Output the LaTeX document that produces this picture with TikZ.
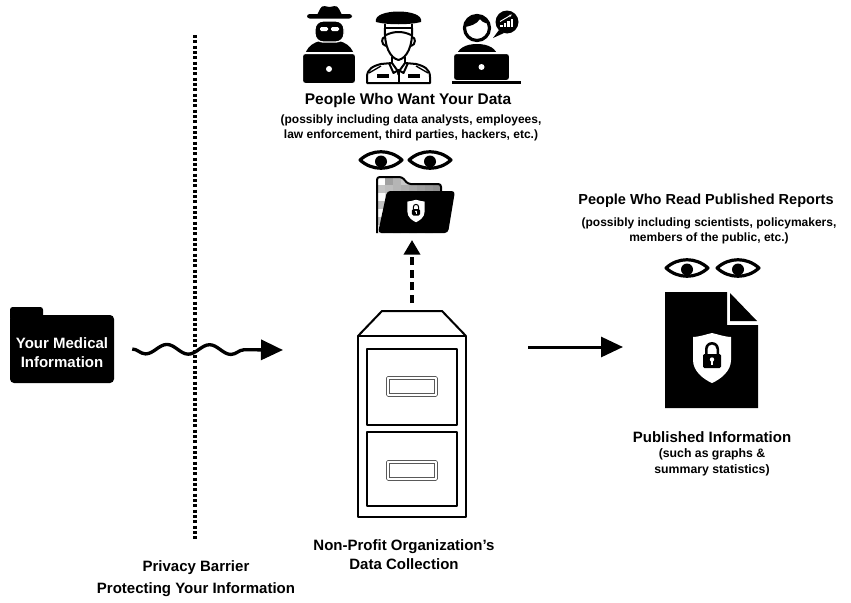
\documentclass[tikz,border=0pt]{standalone}
\usepackage{fontspec}
\setmainfont{Liberation Sans}
\usetikzlibrary{arrows.meta, decorations.pathmorphing}

\tikzset{
  titlelabel/.style={font=\bfseries\fontsize{11.25}{13.5}\selectfont, align=center, inner sep=0pt},
  sublabel/.style={font=\bfseries\fontsize{9}{11.25}\selectfont, align=center, inner sep=0pt},
  drawerhandle/.style={draw=black!65, line width=0.6pt, double=white, double distance=1.5pt},
  eye/.pic={
    \fill (0,1.5) circle (6);
    \draw[line width=2.4pt, miter limit=20] (-21,0) .. controls (-9,-11) and (9,-11) .. (21,0)
      .. controls (9,11) and (-9,11) .. (-21,0) -- cycle;
  },
  shield/.pic={
    \fill[white] (0,-25) .. controls (-8,-23) and (-14,-21) .. (-19,-21) -- (-19,2)
      .. controls (-19,13) and (-9,21) .. (0,25) .. controls (9,21) and (19,13) .. (19,2)
      -- (19,-21) .. controls (14,-21) and (8,-23) .. (0,-25) -- cycle;
    \fill (-7,-3) -- (-7,-9) arc (180:360:7) -- (7,-3) -- (4.5,-3) -- (4.5,-9)
      arc (360:180:4.5) -- (-4.5,-3) -- cycle;
    \fill[rounded corners=1] (-9,-4) rectangle (9,10);
    \fill[white] (0,1.5) circle (2.2);
    \fill[white] (-1,1.5) rectangle (1,6.5);
  },
}

\begin{document}
\begin{tikzpicture}[x=0.75pt, y=-0.75pt, line join=round]
\useasboundingbox (0,0) rectangle (851,603);

% hacker
\fill[rounded corners=2] (307,14) rectangle (352,18.5);
\fill (317,15) -- (320,9) .. controls (322,4) and (327,7) .. (329.5,7) .. controls (332,7) and (337,4) .. (339,9) -- (342,15) -- cycle;
\fill (304,60) .. controls (305,46) and (315,40) .. (329.5,40) .. controls (344,40) and (354,46) .. (355,60) -- cycle;
\filldraw[draw=white, line width=1pt, rounded corners=6] (315,21) rectangle (344,42);
\fill[white, rounded corners=1] (320,27) rectangle (328,31);
\fill[white, rounded corners=1] (331,27) rectangle (339,31);
\filldraw[draw=white, line width=1.5pt, rounded corners=2.5] (302,53) rectangle (356,84);
\fill[white] (329,69) circle (3);

% officer
\begin{scope}[line width=1.5pt]
\fill (376,22) .. controls (372,8) and (425,8) .. (421,22) .. controls (410,25) and (387,25) .. (376,22) -- cycle;
\draw (385,24) -- (385,28) -- (412,28) -- (412,24);
\draw (385,28) .. controls (384,46) and (390,58) .. (398.5,60) .. controls (407,58) and (413,46) .. (412,28);
\draw (386,35) .. controls (394,31) and (403,31) .. (411,35);
\draw (385,37) .. controls (381,37) and (381,45) .. (386,46);
\draw (412,37) .. controls (416,37) and (416,45) .. (411,46);
\draw (392,57) -- (392,63) (405,57) -- (405,63);
\draw (367,83) -- (367,77) .. controls (367,69) and (373,66) .. (381,64) -- (392,63) -- (398.5,72) -- (405,63) -- (416,64) .. controls (424,66) and (430,69) .. (430,77) -- (430,83) -- cycle;
\draw (389,63) -- (393.5,73) -- (398.5,70) -- (403.5,73) -- (408,63);
\draw (398.5,72) -- (398.5,83);
\draw[line width=1pt] (369,73) -- (381,66) (428,73) -- (416,66);
\end{scope}
\fill (396.5,70) -- (400.5,70) -- (399.5,75) -- (397.5,75) -- cycle;
\fill (377,74) rectangle (389,78);
\fill (408,74) rectangle (420,78);

% analyst
\begin{scope}
\clip (477,28) circle (13);
\fill (462,27) .. controls (470,27) and (477,24) .. (480,19) .. controls (483,23) and (487,24) .. (492,24) -- (492,13) -- (462,13) -- cycle;
\end{scope}
\draw[line width=2.4pt] (477,28) circle (12.5);
\fill (456,58) .. controls (457,48) and (466,44) .. (477,44) .. controls (488,44) and (497,48) .. (498,58) -- cycle;
\filldraw[draw=white, line width=1.5pt, rounded corners=2.5] (453,53) rectangle (510,81);
\fill[white] (481.5,67) circle (3);
\fill (452,80.5) rectangle (521,83.5);
\fill (507,22) circle (11.5);
\fill (499,30) -- (493,38) -- (504,33) -- cycle;
\fill[white] (500,27) rectangle (502.5,24.5);
\fill[white] (503.5,27) rectangle (506,22.5);
\fill[white] (507,27) rectangle (509.5,20.5);
\fill[white] (510.5,27) rectangle (513,18.5);
\draw[white, line width=0.7pt, -{Stealth[length=2.5pt]}] (500,21.5) -- (512,14.5);

\node[titlelabel, font=\bfseries\fontsize{11.6}{13.5}\selectfont] (WantTitle) at (408,101) {People Who Want Your Data};
\node[sublabel] (WantSub) at (411,128) {(possibly including data analysts, employees,\\law enforcement, third parties, hackers, etc.)};

\pic at (381,160) {eye};
\pic at (430,160) {eye};

% locked folder
\begin{scope}
\clip (377,233) -- (377,177) -- (402,177) -- (408,184) -- (441,184) -- (441,233) -- cycle;
\foreach \i in {0,...,8} \foreach \j in {0,...,7} {
  \pgfmathtruncatemacro\shade{mod(\i*37+\j*23+\i*\j*11,45)}
  \fill[black!\shade] (377+8*\i,177+8*\j) rectangle ++(8,8);
}
\end{scope}
\draw[line width=1.5pt, rounded corners=2] (377,233) -- (377,177) -- (402,177) -- (408,184) -- (441,184) -- (441,195);
\fill[rounded corners=2.5] (387,191) -- (455,191) -- (448,233) -- (378,233) -- cycle;
\pic[scale=0.45] at (416,211) {shield};

% barrier
\draw[line width=2.6pt, dash pattern=on 2.3pt off 1.7pt] (195,35) -- (195,540);
\node[titlelabel] (BarrierLabel) at (196,579) {Privacy Barrier\\[3pt]Protecting Your Information};

% medical folder
\fill[rounded corners=2] (10,307) rectangle (43,320);
\node[fill=black, rounded corners=3, minimum width=78pt, minimum height=51pt] (MedFolder) at (62,349) {};
\node[titlelabel, text=white] (MedText) at (62,352.5) {Your Medical\\[0.75pt]Information};

\coordinate (WaveEnd) at (283,350);
\draw[line width=2.5pt, decorate, decoration={snake, mirror, amplitude=3.6pt, segment length=32pt, post length=16.5pt}, -{Triangle[length=16.5pt, width=15pt]}] ([xshift=13.5pt]MedFolder.east) -- (WaveEnd);

% filing cabinet
\draw[line width=1.5pt] (358,336) -- (382,311) -- (442,311) -- (466,336);
\draw[line width=1.5pt] (358,336) rectangle (466,517);
\draw[line width=1.1pt] (367,349) rectangle (457,425);
\draw[line width=1.1pt] (367,432) rectangle (457,506);
\draw[drawerhandle] (388,378) rectangle (436,395);
\draw[drawerhandle] (388,462) rectangle (436,479);
\node[titlelabel] (OrgLabel) at (404,554.5) {Non-Profit Organization's\\[0.75pt]Data Collection};

\coordinate (CabinetTop) at (412,303);
\coordinate (FolderBottom) at (412,240);
\draw[line width=3pt, dash pattern=on 6pt off 3.5pt, -{Triangle[length=11pt, width=12pt]}] (CabinetTop) -- (FolderBottom);

\coordinate (CabinetRight) at (528,347);
\coordinate (ReportLeft) at (623,347);
\draw[line width=2.25pt, -{Triangle[length=16.5pt, width=15pt]}] (CabinetRight) -- (ReportLeft);

% published report
\fill (665,292) -- (727,292) -- (727,325) -- (758,325) -- (758,408) -- (665,408) -- cycle;
\fill (730,293) -- (757,321) -- (730,321) -- cycle;
\pic at (712,358) {shield};

\pic at (687,268) {eye};
\pic at (738,268) {eye};

\node[titlelabel, font=\bfseries\fontsize{10.9}{13.5}\selectfont] (ReadTitle) at (706,201) {People Who Read Published Reports};
\node[sublabel] (ReadSub) at (709,231) {(possibly including scientists, policymakers,\\members of the public, etc.)};
\node[titlelabel] (PubTitle) at (712,437) {Published Information};
\node[sublabel, font=\bfseries\fontsize{9.2}{12}\selectfont] (PubSub) at (712,462) {(such as graphs \&\\summary statistics)};
\end{tikzpicture}
\end{document}
